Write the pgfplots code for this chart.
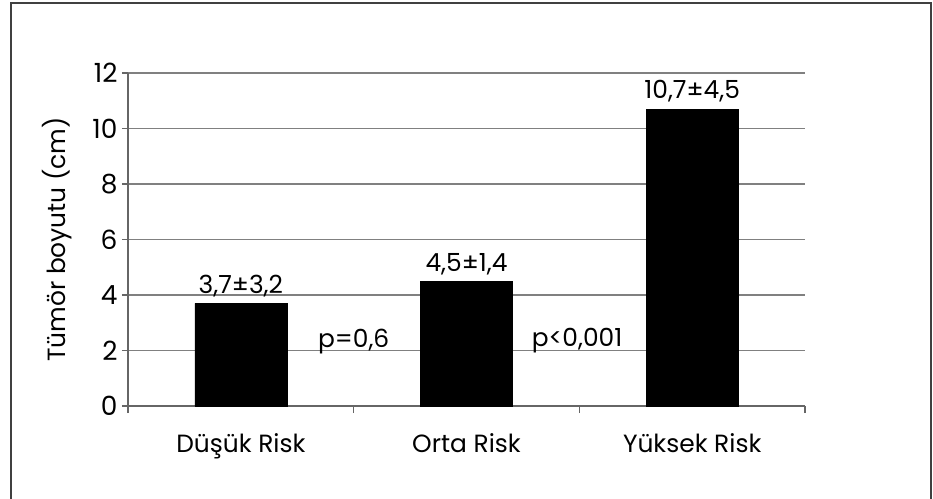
\documentclass[border=0pt]{standalone}
\usepackage{fontspec}
\setmainfont{Poppins}
\usepackage{pgfplots}
\pgfplotsset{compat=1.18}
\newcommand\ff{\fontsize{25}{29}\selectfont}
\newcommand\fd{\fontsize{26.5}{30}\selectfont}
\begin{document}
\begin{tikzpicture}
\begin{axis}[
  name=ax,
  width=677bp, height=333bp, scale only axis,
  xmin=-0.5, xmax=2.5, ymin=0, ymax=12,
  axis x line*=bottom, axis y line*=left,
  axis line style={black!60, line width=1.2bp},
  ytick={0,2,...,12},
  xtick={0,1,2},
  xticklabels={Düşük Risk, Orta Risk, Yüksek Risk},
  minor xtick={-0.5,0.5,1.5,2.5},
  tick align=outside,
  major x tick style={draw=none},
  minor x tick style={black!60, line width=1.2bp},
  y tick style={black!60, line width=1.2bp},
  major tick length=6bp, minor tick length=7bp,
  ymajorgrids, major grid style={black!50, line width=1.2bp},
  yticklabel style={font=\fd, black, xshift=-1bp},
  xticklabel style={font=\ff, black, yshift=-18bp},
  /pgf/number format/assume math mode=true,
  ylabel={Tümör boyutu (cm)},
  ylabel style={font=\ff, black, yshift=14bp},
  ybar, bar width=92bp,
  nodes near coords, point meta=explicit symbolic,
  every node near coord/.append style={font=\ff, black, anchor=south, yshift=3bp},
]
\addplot[fill=black, draw=black] coordinates {(0,3.7)[3,7±3,2] (1,4.5)[4,5±1,4] (2,10.7)[10,7±4,5]};
\node[anchor=base, font=\ff] at (axis cs:0.5,2.1) {p=0,6};
\node[anchor=base, font=\ff] at (axis cs:1.49,2.15) {p<0,001};
\end{axis}
\pgfresetboundingbox
\path[use as bounding box] ([shift={(-128bp,-93bp)}]ax.south west) rectangle ([shift={(128bp,73bp)}]ax.north east);
\draw[black!75, line width=1.3bp] ([shift={(-117bp,-97bp)}]ax.south west) -- ([shift={(-117bp,70bp)}]ax.north west) -- ([shift={(126bp,70bp)}]ax.north east) -- ([shift={(126bp,-97bp)}]ax.south east);
\end{tikzpicture}
\end{document}
